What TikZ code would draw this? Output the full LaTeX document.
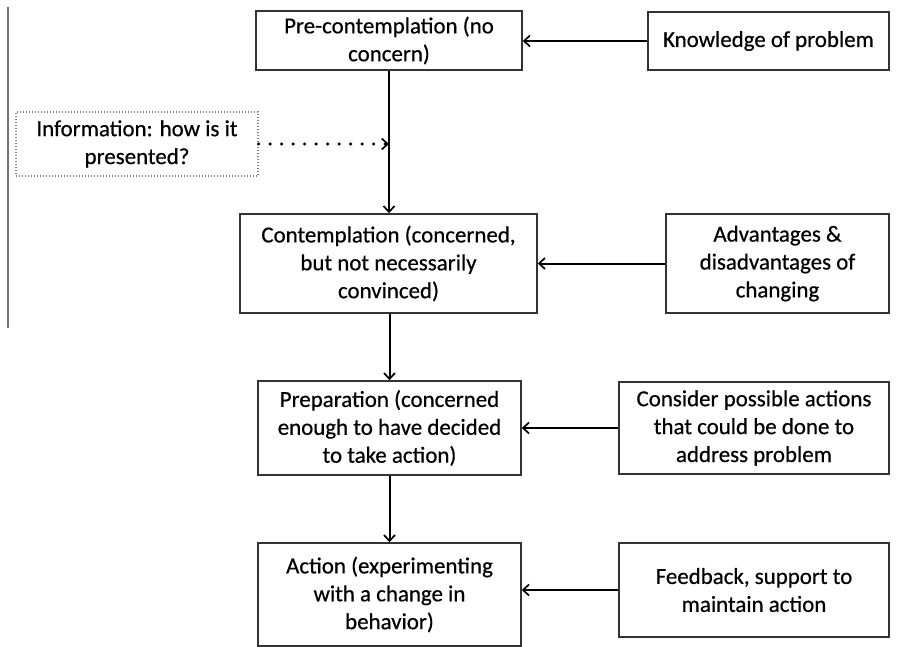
\documentclass[tikz,border=0pt]{standalone}
\usepackage{fontspec}
\setmainfont{Carlito}[FakeBold=0.5]
\usetikzlibrary{arrows.meta}
\begin{document}
\begin{tikzpicture}[x=1bp,y=-1bp,
  box/.style={draw=black!80, line width=1.5bp, rectangle, align=center, inner sep=0pt,
    font=\fontsize{23}{28}\selectfont, text=black},
  dotbox/.style={box, draw=black!50, line width=1.1bp, dash pattern=on 1bp off 2bp},
  arr/.style={line width=2bp, -{Straight Barb[length=6bp,width=11bp,line width=1.7bp]}},
  dotarr/.style={line width=3.4bp, line cap=round, dash pattern=on 0bp off 11.5bp,
    -{Straight Barb[length=6bp,width=11bp,line width=1.7bp]}}]
\useasboundingbox (0,0) rectangle (901,647);
\fill[white] (0,0) rectangle (901,647);
\draw[black!55, line width=2bp] (8,7) -- (8,328);

\node[box, minimum width=266bp, minimum height=59bp] (pre) at (389,40.5) {Pre-contemplation (no\\concern)};
\node[box, minimum width=241bp, minimum height=58bp] (know) at (768.5,41) {Knowledge of problem};
\node[dotbox, minimum width=242bp, minimum height=64bp] (info) at (137,144) {Information: how is it\\presented?};
\node[box, minimum width=297bp, minimum height=99bp] (cont) at (388.5,263.5) {Contemplation (concerned,\\but not necessarily\\convinced)};
\node[box, minimum width=223bp, minimum height=99bp] (adv) at (777.5,263.5) {Advantages \&\\disadvantages of\\changing};
\node[box, minimum width=263bp, minimum height=94bp] (prep) at (389.5,428) {Preparation (concerned\\enough to have decided\\to take action)};
\node[box, minimum width=270bp, minimum height=92bp] (cons) at (754,428) {Consider possible actions\\that could be done to\\address problem};
\node[box, minimum width=263bp, minimum height=103bp] (act) at (389.5,594.5) {Action (experimenting\\with a change in\\behavior)};
\node[box, minimum width=270bp, minimum height=94bp] (feed) at (754,590) {Feedback, support to\\maintain action};

\coordinate (meet) at (info.east -| pre.south);
\draw[arr] (pre.south) -- (pre.south |- cont.north);
\draw[dotarr] (info.east) -- (meet);
\draw[arr] (know.west) -- (know.west -| pre.east);
\draw[arr] (adv.west) -- (adv.west -| cont.east);
\draw[arr] (cont.south -| prep.north) -- (prep.north);
\draw[arr] (cons.west) -- (cons.west -| prep.east);
\draw[arr] (prep.south) -- (act.north);
\draw[arr] (feed.west) -- (feed.west -| act.east);
\end{tikzpicture}
\end{document}
